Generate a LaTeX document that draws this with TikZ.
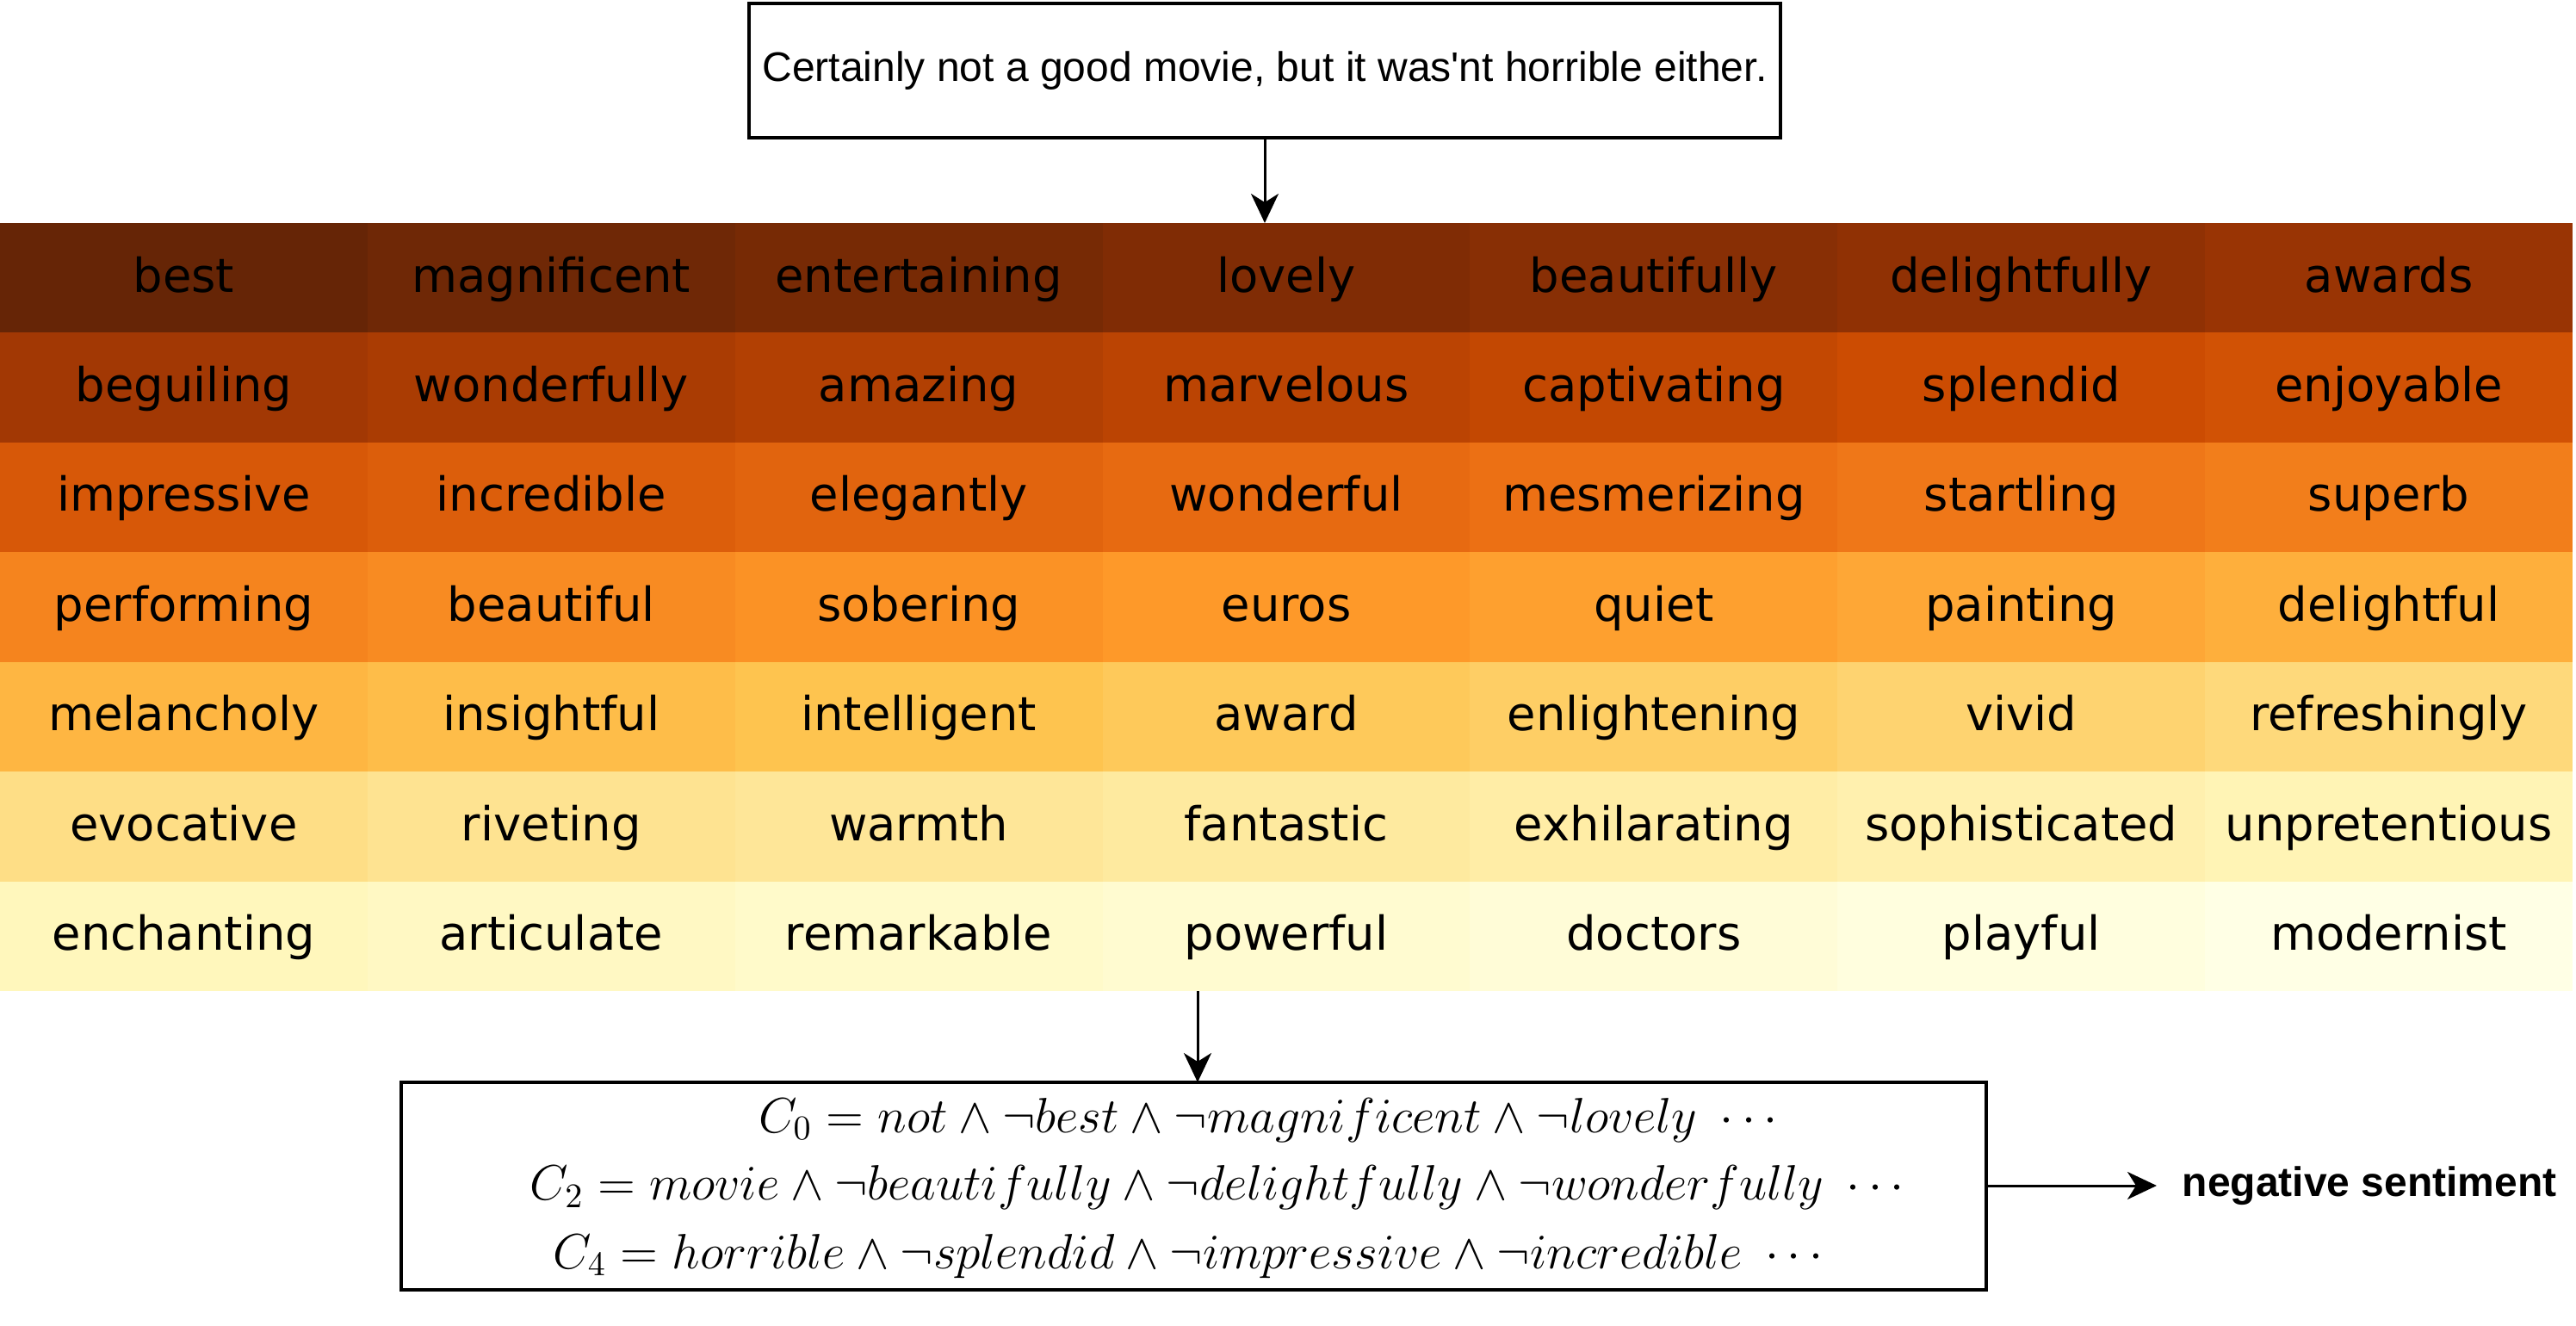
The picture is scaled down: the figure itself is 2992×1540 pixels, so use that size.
\documentclass[tikz,border=0pt]{standalone}
\usepackage{fontspec}
\setmainfont{Liberation Sans}
\newfontfamily\gridfont{DejaVu Sans}
\usetikzlibrary{arrows.meta}
\definecolor{yob0}{HTML}{662506}
\definecolor{yob1}{HTML}{993404}
\definecolor{yob2}{HTML}{CC4C02}
\definecolor{yob3}{HTML}{EC7014}
\definecolor{yob4}{HTML}{FE9929}
\definecolor{yob5}{HTML}{FEC44F}
\definecolor{yob6}{HTML}{FEE391}
\definecolor{yob7}{HTML}{FFF7BC}
\definecolor{yob8}{HTML}{FFFFE5}
\definecolor{yob9}{HTML}{FFFFE5}
\begin{document}
\begin{tikzpicture}[x=0.25pt,y=-0.25pt,
  topbox/.style={draw=black, line width=1pt, inner sep=0, outer sep=0,
    minimum width=299.5pt, minimum height=39pt, font=\fontsize{12}{14}\selectfont},
  clbox/.style={draw=black, line width=1pt, inner sep=0, outer sep=0,
    minimum width=460.25pt, minimum height=60.25pt},
  mline/.style={inner sep=0, anchor=base, font=\fontsize{14.75}{17}\selectfont},
  cell/.style={inner sep=0, outer sep=0, minimum width=106.72pt, minimum height=31.86pt,
    font=\gridfont\fontsize{13.6}{16}\selectfont, text height=10.88pt, text depth=2.72pt, text=black},
  conn/.style={line width=0.75pt, -{Stealth[length=8.5pt,width=8pt,inset=2.5pt]}},
  result/.style={anchor=west, inner xsep=7.25pt, inner ysep=0, font=\bfseries\fontsize{12}{14}\selectfont}]
\useasboundingbox (0,0) rectangle (2992,1540);
\node[topbox] (sent) at (1469,82) {Certainly not a good movie, but it was\textquotesingle nt horrible either.};
\foreach \w [count=\k from 0] in {best,magnificent,entertaining,lovely,beautifully,delightfully,awards,
  beguiling,wonderfully,amazing,marvelous,captivating,splendid,enjoyable,
  impressive,incredible,elegantly,wonderful,mesmerizing,startling,superb,
  performing,beautiful,sobering,euros,quiet,painting,delightful,
  melancholy,insightful,intelligent,award,enlightening,vivid,refreshingly,
  evocative,riveting,warmth,fantastic,exhilarating,sophisticated,unpretentious,
  enchanting,articulate,remarkable,powerful,doctors,playful,modernist}{
  \pgfmathtruncatemacro\rr{\k/7}
  \pgfmathtruncatemacro\cc{mod(\k,7)}
  \pgfmathtruncatemacro\ss{\k/6}
  \pgfmathtruncatemacro\sn{\ss+1}
  \pgfmathtruncatemacro\pp{round(100*mod(\k,6)/6)}
  \node[cell, fill=yob\sn!\pp!yob\ss] (c\rr\cc) at ({(\cc+0.5)*426.857},{259+(\rr+0.5)*127.43}) {\w};
}
\node[clbox] (cl) at (1386.5,1377.5) {};
\node[mline] (l0) at (1473,1315) {$C_0 = not \wedge \neg best \wedge \neg magnificent \wedge \neg lovely\ \cdots$};
\node[mline] (l2) at (1414,1394) {$C_2 = movie \wedge \neg beautifully \wedge \neg delightfully \wedge \neg wonderfully\ \cdots$};
\node[mline] (l4) at (1380,1473) {$C_4 = horrible \wedge \neg splendid \wedge \neg impressive \wedge \neg incredible\ \cdots$};
\node[result] (neg) at (2505,1377) {negative sentiment};
\coordinate (gb) at (1391,1151);
\draw[conn] (sent.south) -- (sent.south |- c03.north);
\draw[conn] (gb) -- (gb |- cl.north);
\draw[conn] (cl.east |- neg.west) -- (neg.west);
\end{tikzpicture}
\end{document}
